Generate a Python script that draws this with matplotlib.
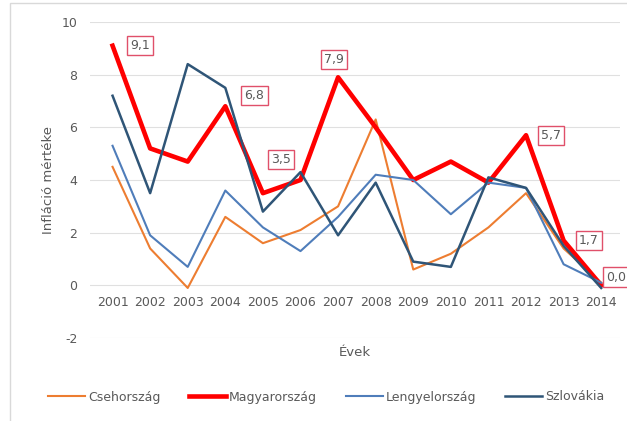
import matplotlib
matplotlib.use("Agg")
import matplotlib.pyplot as plt
from matplotlib.patches import Rectangle

years = list(range(2001, 2015))
cseh = [4.5, 1.4, -0.1, 2.6, 1.6, 2.1, 3.0, 6.3, 0.6, 1.2, 2.2, 3.5, 1.4, 0.1]
magyar = [9.1, 5.2, 4.7, 6.8, 3.5, 4.0, 7.9, 6.0, 4.0, 4.7, 3.9, 5.7, 1.7, 0.0]
lengyel = [5.3, 1.9, 0.7, 3.6, 2.2, 1.3, 2.6, 4.2, 4.0, 2.7, 3.9, 3.7, 0.8, 0.1]
szlovak = [7.2, 3.5, 8.4, 7.5, 2.8, 4.3, 1.9, 3.9, 0.9, 0.7, 4.1, 3.7, 1.5, -0.1]

# labelled points on the Hungarian series: (year, text, offset in points)
labels = [
    (2001, "9,1", (20, 0)),
    (2004, "6,8", (21, 8)),
    (2005, "3,5", (13, 24)),
    (2007, "7,9", (-3, 13)),
    (2012, "5,7", (18, 0)),
    (2013, "1,7", (18, 0)),
    (2014, "0,0", (11, 6)),
]

TXT = "#595959"
plt.rcParams["font.family"] = ["DejaVu Sans"]
plt.rcParams["axes.unicode_minus"] = False

fig = plt.figure(figsize=(6.27, 4.21), dpi=100)
ax = fig.add_axes([90 / 627, 1 - 338 / 421, 530 / 627, 316 / 421])

# chart frame
fig.patches.append(Rectangle((10 / 627, -0.1), 1.2, 1 - 3 / 421 + 0.1,
                             transform=fig.transFigure, fill=False,
                             edgecolor="#D9D9D9", linewidth=1.0))

ax.plot(years, cseh, color="#ED7D31", linewidth=1.5, label="Csehország")
ax.plot(years, magyar, color="#FF0000", linewidth=3.3, label="Magyarország")
ax.plot(years, lengyel, color="#4F7DBA", linewidth=1.5, label="Lengyelország")
ax.plot(years, szlovak, color="#2F5577", linewidth=1.8, label="Szlovákia")

for yr, txt, off in labels:
    v = magyar[years.index(yr)]
    ax.annotate(txt, (yr, v), xytext=off, textcoords="offset points",
                ha="center", va="center", fontsize=9, color=TXT,
                bbox=dict(boxstyle="square,pad=0.25", facecolor="white",
                          edgecolor="#E0506A", linewidth=1.0),
                annotation_clip=False, zorder=6)

ax.set_xlim(2000.4, 2014.5)
ax.set_ylim(-2, 10)
ax.set_yticks(range(-2, 11, 2))
ax.set_xticks(years)
ax.grid(axis="y", color="#E0E0E0", linewidth=0.8)
ax.set_axisbelow(True)

ax.spines["bottom"].set_position(("data", 0))
for s in ["top", "right", "left", "bottom"]:
    ax.spines[s].set_visible(False)
ax.tick_params(axis="both", length=0, labelsize=9, colors=TXT)
ax.tick_params(axis="x", pad=8)
ax.tick_params(axis="y", pad=9)

ax.set_ylabel("Infláció mértéke", fontsize=9.5, color=TXT, labelpad=5)
fig.text(355 / 627, 1 - 352 / 421, "Évek", ha="center", va="center",
         fontsize=9.5, color=TXT)

fig.legend(loc="center", bbox_to_anchor=(326 / 627, 1 - 397 / 421), ncol=4,
           frameon=False, fontsize=9, labelcolor=TXT, handlelength=3.0,
           handletextpad=0.2, columnspacing=2.3)

fig.savefig("out.png", dpi=100)
